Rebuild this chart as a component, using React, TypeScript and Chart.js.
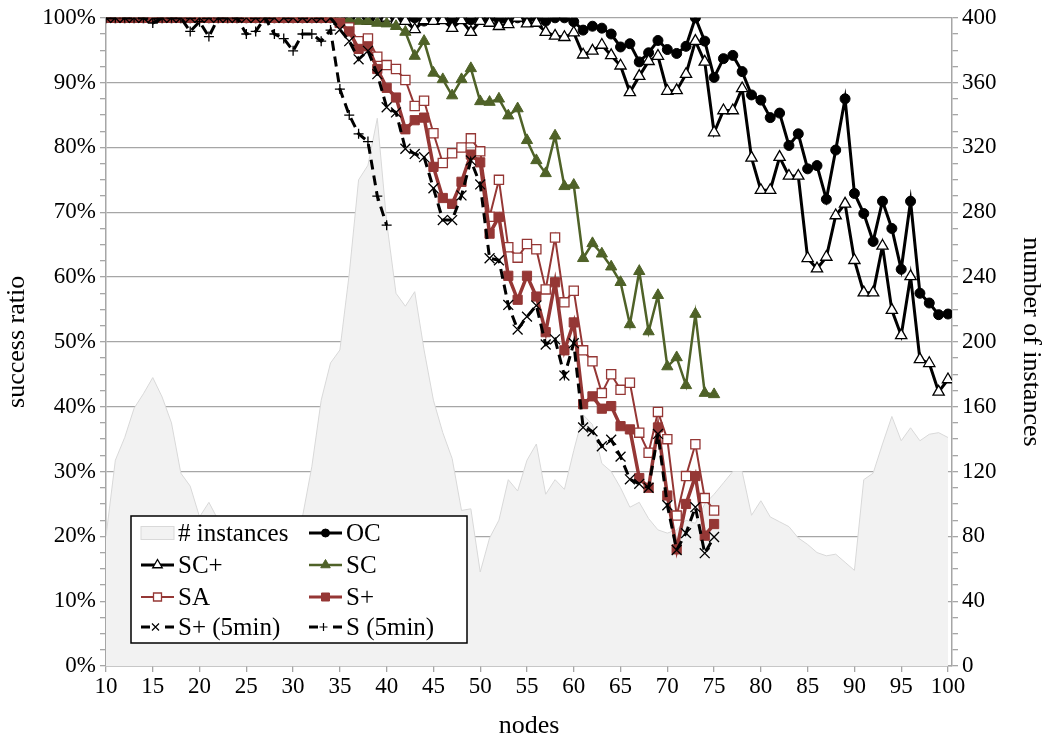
import React, { useEffect, useRef } from 'react';
import { Chart, registerables } from 'chart.js';

Chart.register(...registerables);

const FONT = "'Liberation Serif', 'Times New Roman', serif";
const RED = '#953735';
const GREEN = '#4F6228';
const GRID = '#A6A6A6';

Chart.defaults.font.family = FONT;

// x categories (number of nodes)
const nodes = [
  10, 11, 12, 13, 14, 15, 16, 17, 18, 19,
  20, 21, 22, 23, 24, 25, 26, 27, 28, 29,
  30, 31, 32, 33, 34, 35, 36, 37, 38, 39,
  40, 41, 42, 43, 44, 45, 46, 47, 48, 49,
  50, 51, 52, 53, 54, 55, 56, 57, 58, 59,
  60, 61, 62, 63, 64, 65, 66, 67, 68, 69,
  70, 71, 72, 73, 74, 75, 76, 77, 78, 79,
  80, 81, 82, 83, 84, 85, 86, 87, 88, 89,
  90, 91, 92, 93, 94, 95, 96, 97, 98, 99,
  100,
];

// # instances (right axis)
const instances = [
  80, 127, 141, 159, 168, 178, 166, 150, 119, 111,
  92, 101, 90, 80, 75, 78, 84, 92, 85, 82,
  86, 92, 123, 164, 187, 195, 242, 300, 309, 338,
  274, 230, 222, 231, 195, 164, 144, 128, 96, 97,
  58, 79, 90, 115, 108, 127, 137, 106, 115, 109,
  133, 155, 149, 125, 120, 110, 98, 101, 91, 84,
  82, 84, 90, 88, 100, 106, 113, 120, 120, 93,
  102, 92, 89, 86, 79, 75, 70, 68, 69, 64,
  59, 115, 119, 137, 154, 139, 147, 139, 143, 144,
  141,
];

// success ratios (%) starting at 10 nodes
const oc = [
  100, 100, 100, 100, 100, 100, 100, 100, 100, 100,
  100, 100, 100, 100, 100, 100, 100, 100, 100, 100,
  100, 100, 100, 100, 100, 100, 100, 100, 100, 100,
  100, 100, 99.7, 100, 99.5, 100, 100, 99.7, 100, 99.7,
  100, 100, 99.7, 99.5, 100, 99.6, 100, 99.5, 100, 100,
  99.4, 98.1, 98.7, 98.4, 97.5, 95.5, 96, 93.2, 94.6, 96.5,
  95.1, 94.5, 95.6, 100, 96.4, 90.8, 93.7, 94.2, 91.7, 88.1,
  87.3, 84.6, 85.3, 80.3, 82.1, 76.7, 77.2, 72.0, 79.6, 87.5,
  72.9, 69.8, 65.5, 71.7, 67.5, 61.2, 71.7, 57.5, 56.0, 54.2,
  54.3,
];

const scPlus = [
  100, 100, 100, 100, 100, 100, 100, 100, 100, 100,
  100, 100, 100, 100, 100, 100, 100, 100, 100, 100,
  100, 100, 100, 100, 100, 99.5, 99.6, 100, 99.5, 99.6,
  100, 99.5, 99.5, 98.2, 99.6, 99.5, 99.6, 98.4, 99.6, 97.8,
  99.5, 99.2, 98.7, 99.0, 100, 99.1, 99.2, 97.8, 97.2, 97.0,
  97.7, 94.3, 94.9, 95.8, 94.2, 92.6, 88.5, 91.0, 93.3, 94.1,
  88.7, 88.8, 91.3, 96.4, 93.2, 82.3, 85.7, 85.7, 89.1, 78.4,
  73.4, 73.4, 78.5, 75.6, 75.6, 62.9, 61.3, 63.1, 69.5, 71.3,
  62.6, 57.6, 57.6, 64.8, 54.9, 51.0, 60.1, 47.3, 46.7, 42.3,
  44.2,
];

const sc = [
  100, 100, 100, 100, 100, 100, 100, 100, 100, 100,
  100, 100, 100, 100, 100, 100, 100, 100, 100, 100,
  100, 100, 100, 100, 100, 99.8, 99.6, 99.5, 99.5, 99.2,
  99.1, 98.7, 97.8, 94.1, 96.4, 91.5, 90.5, 88.0, 90.5, 92.2,
  87.1, 87.0, 87.5, 84.9, 86.0, 81.1, 78.0, 76.0, 81.8, 74.0,
  74.2, 62.9, 65.2, 63.6, 61.6, 59.2, 52.7, 60.9, 51.6, 57.2,
  46.2, 47.6, 43.3, 54.3, 42.1, 41.9,
];

const sa = [
  100, 100, 100, 100, 100, 100, 100, 100, 100, 100,
  100, 100, 100, 100, 100, 100, 100, 100, 100, 100,
  100, 100, 100, 100, 100, 99.3, 98.5, 96.4, 96.8, 94.0,
  92.7, 92.1, 90.4, 86.4, 87.2, 82.2, 77.6, 79.1, 80.0, 81.4,
  79.4, 69.3, 75.0, 64.6, 63.0, 65.1, 64.3, 58.1, 66.1, 56.1,
  57.9, 48.7, 47.0, 42.1, 45.0, 42.6, 43.7, 36.0, 32.9, 39.2,
  35.0, 23.2, 29.3, 34.2, 25.9, 24.0,
];

const sPlus = [
  100, 100, 100, 100, 100, 100, 100, 100, 100, 100,
  100, 100, 100, 100, 100, 100, 100, 100, 100, 100,
  100, 100, 100, 100, 100, 99.2, 97.9, 95.2, 95.6, 92.1,
  89.2, 87.7, 82.8, 84.2, 84.6, 77.0, 72.2, 71.3, 74.7, 78.9,
  77.7, 66.7, 69.3, 60.2, 56.5, 60.2, 57.0, 51.5, 59.2, 48.7,
  53.0, 40.4, 41.6, 39.7, 40.1, 37.0, 36.5, 29.0, 27.5, 36.8,
  26.3, 18.0, 25.0, 29.3, 20.1, 21.9,
];

const sPlus5 = [
  100, 100, 100, 100, 100, 100, 100, 100, 100, 100,
  100, 100, 100, 100, 100, 100, 100, 100, 100, 100,
  100, 100, 100, 100, 100, 98.2, 96.4, 93.6, 94.9, 91.3,
  86.2, 85.4, 79.8, 79.0, 78.5, 73.7, 68.8, 68.8, 72.6, 78.0,
  74.3, 62.9, 62.6, 55.7, 51.9, 53.9, 55.6, 49.6, 50.4, 44.8,
  49.8, 36.8, 36.2, 33.9, 34.9, 32.3, 28.8, 28.1, 27.5, 35.8,
  24.8, 17.9, 20.5, 24.5, 17.4, 19.9,
];

const s5 = [
  100, 100, 100, 100, 100, 99.2, 100, 100, 100, 97.9,
  99.4, 97.1, 100, 100, 100, 97.5, 97.9, 100, 97.5, 96.8,
  94.9, 97.5, 97.5, 96.4, 98.1, 89.0, 85.0, 82.1, 80.9, 72.5,
  68.0,
];

const yTicksLeft = [0, 10, 20, 30, 40, 50, 60, 70, 80, 90, 100];
const yTicksRight = [0, 40, 80, 120, 160, 200, 240, 280, 320, 360, 400];

const pts = (arr: number[]) => arr.map((v, i) => ({ x: nodes[i], y: v }));

type Mk = 'circle' | 'triangle' | 'rect' | 'crossRot' | 'cross' | 'none';

function drawMarker(ctx: CanvasRenderingContext2D, kind: Mk, x: number, y: number, r: number, fill: string, stroke: string, lw: number) {
  ctx.save();
  ctx.lineWidth = lw;
  ctx.strokeStyle = stroke;
  ctx.fillStyle = fill;
  ctx.setLineDash([]);
  ctx.beginPath();
  if (kind === 'circle') {
    ctx.arc(x, y, r, 0, Math.PI * 2);
    ctx.fill();
    ctx.stroke();
  } else if (kind === 'triangle') {
    const s = Math.sin(Math.PI / 3) * r;
    ctx.moveTo(x, y - r);
    ctx.lineTo(x + s, y + r / 2);
    ctx.lineTo(x - s, y + r / 2);
    ctx.closePath();
    ctx.fill();
    ctx.stroke();
  } else if (kind === 'rect') {
    ctx.rect(x - r, y - r, 2 * r, 2 * r);
    ctx.fill();
    ctx.stroke();
  } else if (kind === 'crossRot') {
    ctx.moveTo(x - r, y - r);
    ctx.lineTo(x + r, y + r);
    ctx.moveTo(x + r, y - r);
    ctx.lineTo(x - r, y + r);
    ctx.stroke();
  } else if (kind === 'cross') {
    ctx.moveTo(x - r, y);
    ctx.lineTo(x + r, y);
    ctx.moveTo(x, y - r);
    ctx.lineTo(x, y + r);
    ctx.stroke();
  }
  ctx.restore();
}

interface LegendItem {
  label: string;
  area?: boolean;
  color: string;
  width: number;
  dashed?: boolean;
  marker: Mk;
  mr: number;
  mFill: string;
  mStroke: string;
  mlw: number;
}

const legendItems: LegendItem[] = [
  { label: '# instances', area: true, color: '#D9D9D9', width: 1, marker: 'none', mr: 0, mFill: '', mStroke: '', mlw: 0 },
  { label: 'OC', color: '#000', width: 3, marker: 'circle', mr: 4, mFill: '#000', mStroke: '#000', mlw: 1 },
  { label: 'SC+', color: '#000', width: 3, marker: 'triangle', mr: 5.5, mFill: '#fff', mStroke: '#000', mlw: 1.3 },
  { label: 'SC', color: GREEN, width: 2.5, marker: 'triangle', mr: 5.5, mFill: GREEN, mStroke: GREEN, mlw: 1 },
  { label: 'SA', color: RED, width: 2, marker: 'rect', mr: 4, mFill: '#fff', mStroke: RED, mlw: 1.3 },
  { label: 'S+', color: RED, width: 3, marker: 'rect', mr: 4, mFill: RED, mStroke: RED, mlw: 1 },
  { label: 'S+ (5min)', color: '#000', width: 3, dashed: true, marker: 'crossRot', mr: 3.5, mFill: '#000', mStroke: '#000', mlw: 1.2 },
  { label: 'S (5min)', color: '#000', width: 3, dashed: true, marker: 'cross', mr: 4, mFill: '#000', mStroke: '#000', mlw: 1.2 },
];

const boxLegend = {
  id: 'boxLegend',
  afterDraw(chart: any) {
    const ctx: CanvasRenderingContext2D = chart.ctx;
    ctx.save();
    const bx = 131, by = 516, bw = 336, bh = 127;
    ctx.fillStyle = '#fff';
    ctx.fillRect(bx, by, bw, bh);
    ctx.strokeStyle = '#000';
    ctx.lineWidth = 1.5;
    ctx.strokeRect(bx, by, bw, bh);
    const rows = [533, 565, 597, 627];
    const cols = [141, 309];
    ctx.font = `25px ${FONT}`;
    ctx.textBaseline = 'middle';
    ctx.textAlign = 'left';
    legendItems.forEach((it, i) => {
      const cx0 = cols[i % 2];
      const cy = rows[Math.floor(i / 2)];
      const cx1 = cx0 + 33;
      const mid = (cx0 + cx1) / 2;
      if (it.area) {
        ctx.fillStyle = '#F2F2F2';
        ctx.fillRect(cx0, cy - 6.5, 33, 13);
        ctx.strokeStyle = '#D9D9D9';
        ctx.lineWidth = 1;
        ctx.strokeRect(cx0, cy - 6.5, 33, 13);
      } else if (it.dashed) {
        ctx.strokeStyle = it.color;
        ctx.lineWidth = it.width;
        ctx.beginPath();
        ctx.moveTo(cx0, cy);
        ctx.lineTo(cx0 + 9, cy);
        ctx.moveTo(cx1 - 9, cy);
        ctx.lineTo(cx1, cy);
        ctx.stroke();
        drawMarker(ctx, it.marker, mid - 2, cy, it.mr, it.mFill, it.mStroke, it.mlw);
      } else {
        ctx.strokeStyle = it.color;
        ctx.lineWidth = it.width;
        ctx.beginPath();
        ctx.moveTo(cx0, cy);
        ctx.lineTo(cx1, cy);
        ctx.stroke();
        drawMarker(ctx, it.marker, mid, cy, it.mr, it.mFill, it.mStroke, it.mlw);
      }
      ctx.fillStyle = '#000';
      ctx.fillText(it.label, cx1 + 4, cy + 1);
    });
    ctx.restore();
  },
};

export default function App() {
  const ref = useRef<HTMLCanvasElement | null>(null);

  useEffect(() => {
    if (!ref.current) return;
    const tickFont = { family: FONT, size: 23 };
    const titleFont = { family: FONT, size: 26, lineHeight: 1 };

    const lineDs = (label: string, data: number[], o: any) => ({
      label,
      data: pts(data),
      yAxisID: 'y',
      fill: false,
      tension: 0,
      ...o,
    });

    const chart = new Chart(ref.current, {
      type: 'line',
      data: {
        datasets: [
          {
            label: '# instances',
            data: pts(instances),
            yAxisID: 'y2',
            fill: 'origin',
            backgroundColor: '#F2F2F2',
            borderColor: '#D9D9D9',
            borderWidth: 1,
            pointRadius: 0,
            tension: 0,
            order: 10,
          },
          lineDs('OC', oc, {
            borderColor: '#000', borderWidth: 3,
            pointStyle: 'circle', pointRadius: 5, pointBackgroundColor: '#000', pointBorderColor: '#000', pointBorderWidth: 1,
            order: 9,
          }),
          lineDs('SC+', scPlus, {
            borderColor: '#000', borderWidth: 3,
            pointStyle: 'triangle', pointRadius: 6.5, pointBackgroundColor: '#fff', pointBorderColor: '#000', pointBorderWidth: 1.3,
            order: 8,
          }),
          lineDs('SC', sc, {
            borderColor: GREEN, borderWidth: 2.5,
            pointStyle: 'triangle', pointRadius: 6.5, pointBackgroundColor: GREEN, pointBorderColor: GREEN, pointBorderWidth: 1,
            order: 7,
          }),
          lineDs('SA', sa, {
            borderColor: RED, borderWidth: 2,
            pointStyle: 'rect', pointRadius: 6.5, pointBackgroundColor: '#fff', pointBorderColor: RED, pointBorderWidth: 1.3,
            order: 6,
          }),
          lineDs('S+', sPlus, {
            borderColor: RED, borderWidth: 3.5,
            pointStyle: 'rect', pointRadius: 6.5, pointBackgroundColor: RED, pointBorderColor: RED, pointBorderWidth: 1,
            order: 5,
          }),
          lineDs('S (5min)', s5, {
            borderColor: '#000', borderWidth: 3, borderDash: [10, 6],
            pointStyle: 'cross', pointRadius: 5, pointBackgroundColor: '#000', pointBorderColor: '#000', pointBorderWidth: 1.3,
            order: 4,
          }),
          lineDs('S+ (5min)', sPlus5, {
            borderColor: '#000', borderWidth: 3, borderDash: [10, 6],
            pointStyle: 'crossRot', pointRadius: 7, pointBackgroundColor: '#000', pointBorderColor: '#000', pointBorderWidth: 1.3,
            order: 3,
          }),
        ],
      },
      options: {
        animation: false,
        responsive: false,
        devicePixelRatio: 1,
        font: { family: FONT },
        layout: { padding: { top: 15, left: 0, right: 0, bottom: 0 } },
        plugins: {
          legend: { display: false },
          tooltip: { enabled: false },
        },
        scales: {
          x: {
            type: 'linear',
            min: 10,
            max: 100.43,
            ticks: {
              stepSize: 5,
              includeBounds: false,
              autoSkip: false,
              maxRotation: 0,
              font: tickFont,
              color: '#000',
              padding: 1,
              callback: (v: any) => (nodes.includes(v) ? String(v) : ''),
            },
            grid: { drawOnChartArea: false, tickLength: 6, tickColor: GRID, lineWidth: 1.3 },
            border: { color: GRID, width: 1.5 },
            title: { display: true, text: 'nodes', font: titleFont, color: '#000', padding: { top: 0, bottom: 0 } },
            afterFit: (s: any) => { s.height = 73; },
          },
          y: {
            type: 'linear',
            position: 'left',
            min: 0,
            max: 100,
            ticks: {
              stepSize: 2.5,
              autoSkip: false,
              font: tickFont,
              color: '#000',
              padding: 4,
              callback: (v: any) => (yTicksLeft.includes(v) ? v + '%' : ''),
            },
            grid: {
              color: (c: any) => (c.tick && yTicksLeft.includes(c.tick.value) ? GRID : 'rgba(0,0,0,0)'),
              lineWidth: 1.3,
              tickColor: GRID,
              tickLength: 6,
            },
            border: { color: GRID, width: 1.5 },
            title: { display: true, text: 'success ratio', font: titleFont, color: '#000', padding: { top: 4, bottom: 0 } },
            afterFit: (s: any) => { s.width = 106; },
          },
          y2: {
            type: 'linear',
            position: 'right',
            min: 0,
            max: 400,
            ticks: {
              stepSize: 10,
              autoSkip: false,
              font: tickFont,
              color: '#000',
              padding: 4,
              callback: (v: any) => (yTicksRight.includes(v) ? String(v) : ''),
            },
            grid: { drawOnChartArea: false, tickColor: GRID, tickLength: 6, lineWidth: 1.3 },
            border: { color: GRID, width: 1.5 },
            title: { display: true, text: 'number of instances', font: titleFont, color: '#000', padding: { top: 8, bottom: 0 } },
            afterFit: (s: any) => { s.width = 100; },
          },
        },
      } as any,
      plugins: [boxLegend],
    });
    return () => chart.destroy();
  }, []);

  return (
    <div style={{ position: 'fixed', left: 0, top: 0, width: 1052, height: 739, background: '#fff' }}>
      <canvas ref={ref} width={1052} height={739} style={{ width: 1052, height: 739 }} />
    </div>
  );
}
